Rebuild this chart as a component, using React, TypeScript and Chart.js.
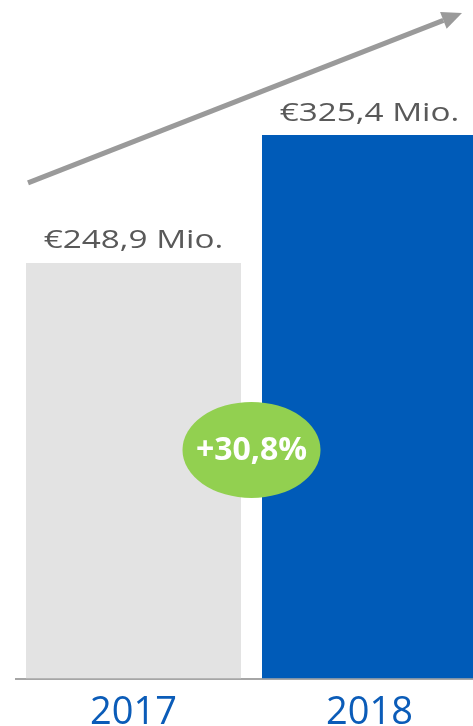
import React, { useEffect, useRef } from "react";
import { Chart, registerables } from "chart.js";

Chart.register(...registerables);

const CATEGORIES = ["2017", "2018"];
const REVENUE = [248.9, 325.4];
const VALUE_LABELS = ["€248,9 Mio.", "€325,4 Mio."];
const GROWTH_LABEL = "+30,8%";
const BAR_COLORS = ["#e3e3e3", "#005bb8"];
const Y_MAX = 406.3;

const overlayPlugin = {
  id: "overlay",
  afterDatasetsDraw(chart: any) {
    const ctx = chart.ctx;
    const meta = chart.getDatasetMeta(0);
    const yScale = chart.scales.y;
    const b0 = meta.data[0];
    const b1 = meta.data[1];
    if (!b0 || !b1) return;

    // value labels
    ctx.save();
    ctx.fillStyle = "#595959";
    ctx.font = "26px 'Open Sans'";
    ctx.textAlign = "center";
    ctx.textBaseline = "middle";
    meta.data.forEach((bar: any, i: number) => {
      ctx.save();
      ctx.translate(bar.x, bar.y - 22);
      ctx.scale(1.28, 1);
      ctx.fillText(VALUE_LABELS[i], 0, 0);
      ctx.restore();
    });
    ctx.restore();

    // arrow
    const sx = b0.x - b0.width / 2 + 2;
    const sy = yScale.getPixelForValue(REVENUE[0]) - 80;
    const ex = b1.x + b1.width / 2 - 15;
    const ey = yScale.getPixelForValue(REVENUE[1]) - 122;
    const ang = Math.atan2(ey - sy, ex - sx);
    const headLen = 20;
    const headW = 9;
    const bx = ex - headLen * Math.cos(ang);
    const by = ey - headLen * Math.sin(ang);
    ctx.save();
    ctx.strokeStyle = "#9a9a9a";
    ctx.fillStyle = "#9a9a9a";
    ctx.lineWidth = 5;
    ctx.beginPath();
    ctx.moveTo(sx, sy);
    ctx.lineTo(bx, by);
    ctx.stroke();
    ctx.beginPath();
    ctx.moveTo(ex, ey);
    ctx.lineTo(bx + headW * Math.sin(ang), by - headW * Math.cos(ang));
    ctx.lineTo(bx - headW * Math.sin(ang), by + headW * Math.cos(ang));
    ctx.closePath();
    ctx.fill();
    ctx.restore();

    // growth bubble
    const cx = (b0.x + b0.width / 2 + b1.x - b1.width / 2) / 2;
    const cy = yScale.getPixelForValue(REVENUE[0] * 0.55);
    ctx.save();
    ctx.fillStyle = "#92d050";
    ctx.beginPath();
    ctx.ellipse(cx, cy, 69, 48, 0, 0, Math.PI * 2);
    ctx.fill();
    ctx.fillStyle = "#ffffff";
    ctx.font = "bold 32px 'Open Sans'";
    ctx.textAlign = "center";
    ctx.textBaseline = "middle";
    ctx.fillText(GROWTH_LABEL, cx, cy + 1);
    ctx.restore();
  },
};

export default function App() {
  const ref = useRef<HTMLCanvasElement | null>(null);
  useEffect(() => {
    if (!ref.current) return;
    const chart = new Chart(ref.current, {
      type: "bar",
      data: {
        labels: CATEGORIES,
        datasets: [
          {
            data: REVENUE,
            backgroundColor: BAR_COLORS,
            borderWidth: 0,
            categoryPercentage: 1,
            barPercentage: 0.911,
          },
        ],
      },
      options: {
        responsive: false,
        animation: false,
        events: [],
        layout: { padding: { left: 15.5, right: 2.5, top: 0, bottom: -13 } },
        plugins: {
          legend: { display: false },
          tooltip: { enabled: false },
          title: { display: false },
        },
        scales: {
          x: {
            grid: { display: false },
            border: { display: true, color: "#a6a6a6", width: 2 },
            ticks: {
              color: "#0b5cb8",
              font: { family: "'Open Sans'", size: 38 },
              padding: 3.4,
            },
          },
          y: {
            display: false,
            min: 0,
            max: Y_MAX,
            grid: { display: false },
          },
        },
      },
      plugins: [overlayPlugin],
    });
    return () => chart.destroy();
  }, []);
  return (
    <div
      style={{
        position: "fixed",
        left: 0,
        top: 0,
        width: 473,
        height: 726,
        overflow: "hidden",
        background: "#ffffff",
      }}
    >
      <canvas ref={ref} width={490} height={726} style={{ display: "block" }} />
    </div>
  );
}
